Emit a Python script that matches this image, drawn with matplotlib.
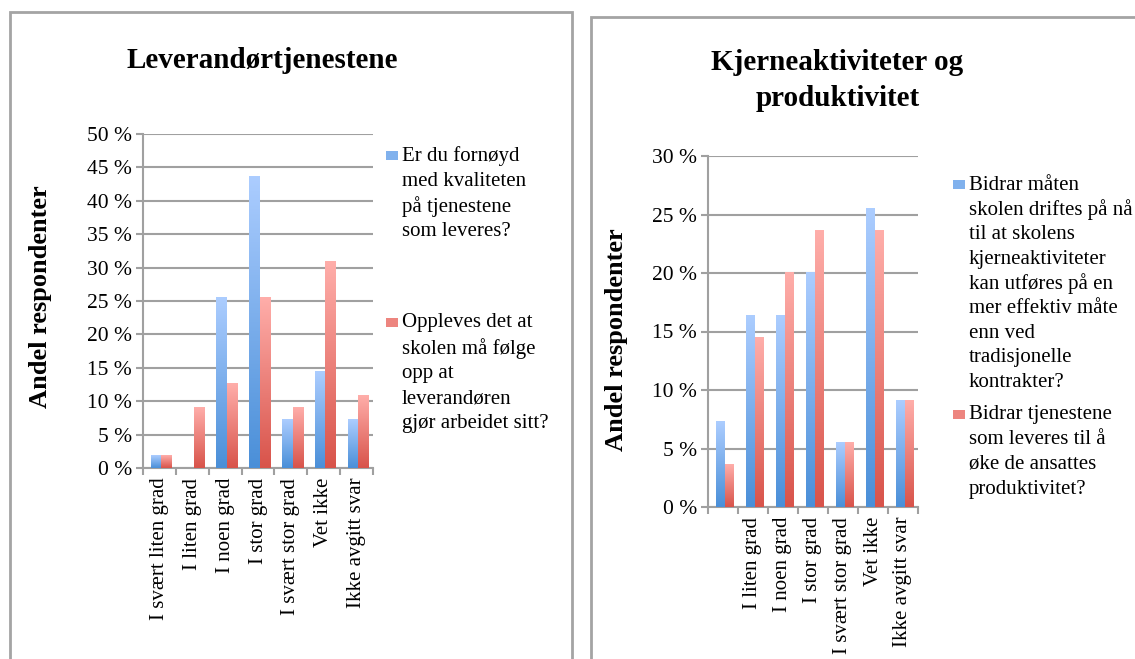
import numpy as np
import matplotlib
matplotlib.use("Agg")
import matplotlib.pyplot as plt
from matplotlib.colors import LinearSegmentedColormap
from matplotlib.patches import Rectangle

plt.rcParams['font.family'] = ['Liberation Serif', 'DejaVu Serif']

W, H = 1135, 659

# --- data -----------------------------------------------------------------
categories_left = ["I svært liten grad", "I liten grad", "I noen grad", "I stor grad",
                   "I svært stor grad", "Vet ikke", "Ikke avgitt svar"]
categories_right = ["", "I liten grad", "I noen grad", "I stor grad",
                    "I svært stor grad", "Vet ikke", "Ikke avgitt svar"]

kvalitet = [1.8, 0.0, 25.5, 43.6, 7.3, 14.5, 7.3]
oppfolging = [1.8, 9.1, 12.7, 25.5, 9.1, 30.9, 10.9]
kjerneaktiviteter = [7.3, 16.4, 16.4, 20.0, 5.5, 25.5, 9.1]
produktivitet = [3.6, 14.5, 20.0, 23.6, 5.5, 23.6, 9.1]

legend_left = [["Er du fornøyd", "med kvaliteten", "på tjenestene", "som leveres?"],
               ["Oppleves det at", "skolen må følge", "opp at", "leverandøren",
                "gjør arbeidet sitt?"]]
legend_right = [["Bidrar måten", "skolen driftes på nå", "til at skolens",
                 "kjerneaktiviteter", "kan utføres på en", "mer effektiv måte",
                 "enn ved", "tradisjonelle", "kontrakter?"],
                ["Bidrar tjenestene", "som leveres til å", "øke de ansattes",
                 "produktivitet?"]]

# --- styling --------------------------------------------------------------
blue_cmap = LinearSegmentedColormap.from_list("blue_grad", ["#4A8FD8", "#ACCDFF"])
red_cmap = LinearSegmentedColormap.from_list("red_grad", ["#D8534A", "#FFAEAA"])
GRID = "#A0A0A0"
FS = 15
TITLE_FS = 21

fig = plt.figure(figsize=(W / 100, H / 100), dpi=100)


def fx(x):
    return x / W


def fy(y):
    return 1 - y / H


def panel_frame(x0, y0, x1):
    fig.patches.append(Rectangle((fx(x0), fy(H + 20)), fx(x1 - x0), fy(y0) - fy(H + 20),
                                 transform=fig.transFigure, fill=False,
                                 edgecolor="#A4A4A4", linewidth=2.0, zorder=0))


panel_frame(10, 12, 572)
panel_frame(591, 17, W + 40)

grad = np.linspace(0, 1, 256).reshape(-1, 1)


def gradient_bars(ax, xs, heights, width, cmap):
    # bars give the geometry; each one is then filled with a vertical gradient
    bars = ax.bar(xs, heights, width, color=cmap(0.5), zorder=3, linewidth=0)
    for b in bars:
        h = b.get_height()
        if h <= 0:
            continue
        ax.imshow(grad, cmap=cmap, origin="lower", aspect="auto", zorder=3.1,
                  extent=(b.get_x(), b.get_x() + b.get_width(), 0, h),
                  interpolation="bilinear")


def make_chart(rect, cats, s1, s2, ymax, width):
    ax = fig.add_axes(rect)
    n = len(cats)
    x = np.arange(n)
    gradient_bars(ax, x - width / 2 + 0.05, s1, width, blue_cmap)
    gradient_bars(ax, x + width / 2 + 0.05, s2, width, red_cmap)
    ax.set_xlim(-0.5, n - 0.5)
    ax.set_ylim(0, ymax)
    ax.set_yticks(np.arange(0, ymax + 1, 5))
    ax.set_yticklabels([f"{v} %" for v in range(0, ymax + 1, 5)], fontsize=FS + 0.5)
    ax.yaxis.grid(True, color=GRID, linewidth=1.5, zorder=0)
    ax.set_axisbelow(True)
    ax.set_xticks(x)
    ax.set_xticklabels(cats, rotation=90, fontsize=FS, va="top", ha="center")
    ax.set_xticks(np.arange(-0.5, n, 1), minor=True)
    ax.tick_params(axis="x", which="major", length=0, pad=7)
    ax.tick_params(axis="x", which="minor", length=5, width=1.5, color=GRID)
    ax.tick_params(axis="y", length=5, width=1.5, color=GRID, pad=3)
    for side in ("top", "right"):
        ax.spines[side].set_visible(False)
    for side in ("left", "bottom"):
        ax.spines[side].set_color(GRID)
        ax.spines[side].set_linewidth(1.5)
    return ax


make_chart([fx(143), fy(468), fx(373 - 143), fy(134) - fy(468)],
           categories_left, kvalitet, oppfolging, 50, 0.32)
make_chart([fx(708), fy(507), fx(918 - 708), fy(156) - fy(507)],
           categories_right, kjerneaktiviteter, produktivitet, 30, 0.30)

# titles
fig.text(fx(262), fy(61), "Leverandørtjenestene", fontsize=TITLE_FS, fontweight="bold",
         ha="center", va="center")
fig.text(fx(837), fy(62), "Kjerneaktiviteter og", fontsize=TITLE_FS, fontweight="bold",
         ha="center", va="center")
fig.text(fx(838), fy(98), "produktivitet", fontsize=TITLE_FS, fontweight="bold",
         ha="center", va="center")

# axis titles
fig.text(fx(40), fy(297), "Andel respondenter", fontsize=19, fontweight="bold",
         rotation=90, ha="center", va="center")
fig.text(fx(617), fy(340), "Andel respondenter", fontsize=19, fontweight="bold",
         rotation=90, ha="center", va="center")


# legends
def legend_block(marker_x, text_x, entries, starts, spacing, cmaps):
    for lines, y0, cmap in zip(entries, starts, cmaps):
        fig.patches.append(Rectangle((fx(marker_x), fy(y0 + 4)), fx(12), fy(0) - fy(9),
                                     transform=fig.transFigure, color=cmap(0.55),
                                     linewidth=0))
        for k, line in enumerate(lines):
            fig.text(fx(text_x), fy(y0 + k * spacing), line, fontsize=FS,
                     ha="left", va="center")


legend_block(386, 402, legend_left, [156, 323], 25.2, [blue_cmap, red_cmap])
legend_block(953, 969, legend_right, [185, 415], 24.7, [blue_cmap, red_cmap])

fig.savefig("out.png", dpi=100, facecolor="white")
